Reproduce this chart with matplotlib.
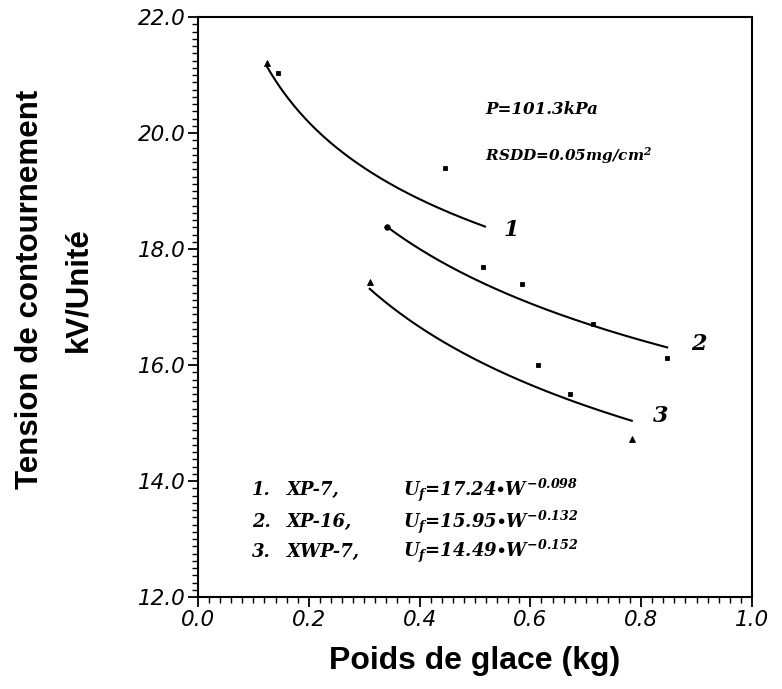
import numpy as np
import matplotlib
matplotlib.use("Agg")
import matplotlib.pyplot as plt
from matplotlib.ticker import MultipleLocator
from matplotlib import font_manager

# ---- data ----
s1_x = [0.125, 0.144, 0.446]
s1_y = [21.20, 21.03, 19.40]
s1_m = ['^', 's', 's']

s2_x = [0.341, 0.514, 0.585, 0.713, 0.847]
s2_y = [18.38, 17.69, 17.40, 16.71, 16.12]
s2_m = ['o', 's', 's', 's', 's']

s3_x = [0.310, 0.614, 0.671, 0.783]
s3_y = [17.43, 16.00, 15.50, 14.72]
s3_m = ['^', 's', 's', '^']

# fitted power laws  U = a * W^b  (as given in the chart)
fit_a = [17.24, 15.95, 14.49]
fit_b = [-0.098, -0.132, -0.152]
fit_range = [(0.125, 0.518), (0.341, 0.847), (0.310, 0.783)]
fit_names = ["XP-7,", "XP-16,", "XWP-7,"]
fit_exp_txt = ["-0.098", "-0.132", "-0.152"]

x_ticks = [0.0, 0.2, 0.4, 0.6, 0.8, 1.0]
y_ticks = [12.0, 14.0, 16.0, 18.0, 20.0, 22.0]

# ---- fonts ----
names = {f.name for f in font_manager.fontManager.ttflist}
label_family = "Liberation Sans Narrow" if "Liberation Sans Narrow" in names else "Liberation Sans"
plt.rcParams['mathtext.fontset'] = 'custom'
plt.rcParams['mathtext.rm'] = 'DejaVu Serif:bold:italic'
plt.rcParams['mathtext.it'] = 'DejaVu Serif:bold:italic'
plt.rcParams['mathtext.bf'] = 'DejaVu Serif:bold:italic'

fig = plt.figure(figsize=(7.82, 6.89), dpi=100)
ax = fig.add_axes([0.2532, 0.1335, 0.7084, 0.8418])

series = [(s1_x, s1_y, s1_m), (s2_x, s2_y, s2_m), (s3_x, s3_y, s3_m)]
for (xs, ys, ms) in series:
    for x, y, m in zip(xs, ys, ms):
        ax.plot([x], [y], linestyle='none', marker=m, markersize=4 if m != 's' else 3.2,
                color='black', markeredgewidth=0.6)

for a, b, (lo, hi) in zip(fit_a, fit_b, fit_range):
    w = np.linspace(lo, hi, 200)
    ax.plot(w, a * w ** b, color='black', linewidth=1.5)

ax.set_xlim(0.0, 1.0)
ax.set_ylim(12.0, 22.0)
ax.set_xticks(x_ticks)
ax.set_yticks(y_ticks)
ax.set_xticklabels([f"{v:.1f}" for v in x_ticks])
ax.set_yticklabels([f"{v:.1f}" for v in y_ticks])
ax.xaxis.set_minor_locator(MultipleLocator(0.02))
ax.yaxis.set_minor_locator(MultipleLocator(0.125))
ax.tick_params(axis='both', which='major', direction='out', length=7, width=1.3,
               labelsize=15.5, pad=2)
ax.tick_params(axis='both', which='minor', direction='out', length=4, width=1.0)
for lab in ax.get_xticklabels() + ax.get_yticklabels():
    lab.set_fontfamily("DejaVu Sans")
    lab.set_fontstyle("italic")
for sp in ax.spines.values():
    sp.set_linewidth(1.5)

ax.set_xlabel("Poids de glace (kg)", fontsize=23, fontweight='bold',
              family=label_family, labelpad=12)
fig.text(0.038, 0.58, "Tension de contournement", rotation=90, ha='center', va='center',
         fontsize=22.5, fontweight='bold', family=label_family)
fig.text(0.100, 0.58, "kV/Unité", rotation=90, ha='center', va='center',
         fontsize=22.5, fontweight='bold', family=label_family)

ann = dict(family="DejaVu Serif", style='italic', fontweight='bold', color='black')
ax.text(0.518, 20.40, "P=101.3kPa", fontsize=12, va='center', **ann)
ax.text(0.518, 19.62, "RSDD=0.05mg/cm$^2$", fontsize=11, va='center', **ann)

curve_lbl_pos = [(0.552, 18.33), (0.890, 16.36), (0.822, 15.12)]
for i, (x, y) in enumerate(curve_lbl_pos):
    ax.text(x, y, str(i + 1), fontsize=16, va='center', **ann)

leg_y = [13.84, 13.29, 12.78]
for i in range(3):
    ax.text(0.097, leg_y[i], f"{i + 1}.", fontsize=13, va='center', **ann)
    ax.text(0.160, leg_y[i], fit_names[i], fontsize=13, va='center', **ann)
    ax.text(0.370, leg_y[i],
            r"$U_f$=" + f"{fit_a[i]:.2f}" + r"$\bullet W^{" + fit_exp_txt[i] + r"}$",
            fontsize=13, va='center', **ann)

fig.savefig("out.png", dpi=100, facecolor='white')
